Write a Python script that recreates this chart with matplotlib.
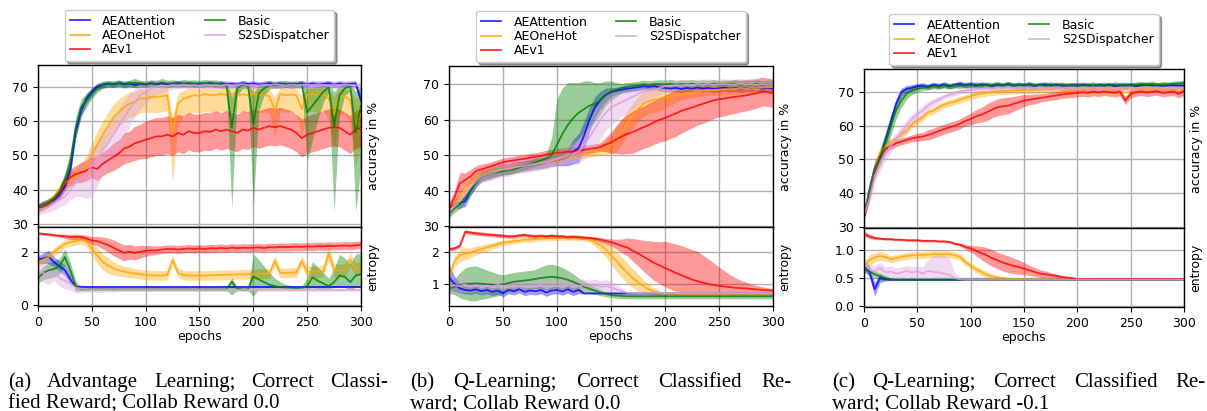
import numpy as np
import matplotlib
matplotlib.use("Agg")
import matplotlib.pyplot as plt

# ---------------- data (one value every 5 epochs) ----------------
epochs = list(range(0, 301, 5))
names = ["AEAttention", "AEOneHot", "AEv1", "Basic", "S2SDispatcher"]
colors = ["blue", "orange", "red", "green", "plum"]
captions = [
    ("(a) Advantage Learning; Correct Classi-", "fied Reward; Collab Reward 0.0"),
    ("(b) Q-Learning; Correct Classified Re-", "ward; Collab Reward 0.0"),
    ("(c) Q-Learning; Correct Classified Re-", "ward; Collab Reward -0.1"),
]

# ---- panel (a) accuracy ----
a_acc_att = [35.0, 35.8, 36.2, 37.0, 38.5, 41.0, 46.0, 57.0, 63.0, 66.5,
             68.5, 70.0, 70.5, 70.8, 70.6, 71.0, 70.7, 70.9, 70.5, 70.8,
             70.6, 71.0, 70.7, 70.9, 70.6, 70.8, 71.0, 70.7, 70.9, 70.6,
             70.8, 70.7, 71.0, 70.6, 70.9, 70.7, 70.8, 70.6, 71.0, 70.7,
             70.9, 70.6, 70.8, 71.0, 70.7, 70.9, 70.6, 70.8, 70.7, 71.0,
             70.6, 70.9, 70.7, 70.8, 71.0, 70.6, 70.9, 70.7, 70.8, 70.9,
             66.0]
a_acc_att_sd = [1.0, 1.0, 1.0, 1.0, 1.2, 1.5, 2.0, 2.0, 1.8, 1.5,
                1.2, 1.0, 0.9, 0.8, 0.8, 0.8, 0.8, 0.8, 0.8, 0.8,
                0.8, 0.8, 0.8, 0.8, 0.8, 0.8, 0.8, 0.8, 0.8, 0.8,
                0.8, 0.8, 0.8, 0.8, 0.8, 0.8, 0.8, 0.8, 0.8, 0.8,
                0.8, 0.8, 0.8, 0.8, 0.8, 0.8, 0.8, 0.8, 0.8, 0.8,
                0.8, 0.8, 0.8, 0.8, 0.8, 0.8, 0.8, 0.8, 0.8, 0.8,
                1.5]
a_acc_one = [34.8, 35.5, 36.5, 38.0, 40.0, 42.0, 43.0, 44.0, 45.0, 47.0,
             50.0, 53.0, 56.0, 58.5, 61.0, 62.5, 64.0, 65.0, 65.5, 66.5,
             66.5, 67.0, 67.0, 67.2, 67.5, 57.0, 65.0, 66.5, 67.0, 67.5,
             67.3, 67.8, 67.5, 67.6, 67.9, 67.5, 67.8, 67.4, 67.7, 67.5,
             67.8, 67.5, 67.6, 67.2, 63.0, 67.8, 67.5, 67.7, 67.4, 63.5,
             67.6, 67.8, 67.5, 67.9, 66.5, 62.0, 67.5, 67.2, 66.0, 58.5,
             62.0]
a_acc_one_up = [1.0, 1.0, 1.0, 1.0, 1.5, 1.5, 2.0, 2.0, 2.5, 3.0,
                3.5, 4.0, 4.0, 4.0, 4.0, 4.0, 3.5, 3.5, 3.0, 3.0,
                2.5, 2.5, 2.5, 2.5, 2.5, 4.0, 3.0, 2.5, 2.5, 2.0,
                2.0, 2.0, 2.0, 2.0, 2.0, 2.0, 2.0, 2.0, 2.0, 2.0,
                2.0, 2.0, 2.0, 2.0, 4.0, 2.0, 2.0, 2.0, 2.0, 4.0,
                2.0, 2.0, 2.0, 2.0, 2.5, 5.0, 2.0, 2.0, 3.0, 8.0,
                5.0]
a_acc_one_lo = [1.0, 1.0, 1.0, 1.0, 1.5, 1.5, 2.0, 2.0, 2.5, 3.0,
                4.0, 4.0, 4.0, 4.0, 4.0, 4.0, 4.0, 4.0, 4.0, 4.0,
                4.0, 4.5, 4.5, 4.5, 4.5, 15.0, 6.0, 5.0, 5.0, 5.0,
                5.0, 5.0, 5.0, 5.0, 5.0, 5.0, 5.0, 5.0, 5.0, 5.0,
                5.0, 5.0, 5.0, 5.0, 8.0, 5.0, 5.0, 5.0, 5.0, 8.0,
                5.0, 5.0, 5.0, 5.0, 6.0, 10.0, 6.0, 5.0, 7.0, 12.0,
                8.0]
a_acc_v1 = [34.5, 35.0, 36.0, 37.5, 39.0, 42.0, 43.5, 44.5, 45.0, 45.5,
            46.5, 46.0, 47.5, 48.5, 49.5, 50.5, 52.0, 52.5, 53.5, 54.0,
            54.5, 55.0, 55.5, 55.5, 56.0, 55.5, 56.5, 56.0, 57.0, 56.5,
            56.5, 57.0, 56.8, 57.5, 57.0, 57.5, 57.0, 56.5, 57.5, 57.2,
            58.0, 57.5, 58.0, 58.5, 58.2, 58.5, 58.0, 57.5, 56.5, 55.0,
            56.0, 56.5, 57.0, 57.5, 58.0, 58.2, 58.0, 57.0, 56.0, 57.5,
            58.0]
a_acc_v1_sd = [1.0, 1.0, 1.0, 1.0, 1.5, 2.0, 2.5, 2.5, 3.0, 3.0,
               3.0, 3.5, 3.5, 3.5, 4.0, 4.0, 4.5, 4.5, 5.0, 5.0,
               5.5, 5.5, 5.5, 5.5, 5.5, 5.5, 5.5, 5.5, 5.5, 5.5,
               5.5, 5.5, 5.5, 5.5, 5.5, 5.5, 5.5, 5.5, 5.5, 5.5,
               5.5, 5.5, 5.5, 5.5, 5.5, 5.5, 5.5, 5.5, 5.5, 5.5,
               5.5, 5.5, 5.5, 5.5, 5.5, 5.5, 5.5, 5.5, 5.5, 5.5,
               5.5]
a_acc_bas = [34.5, 35.5, 36.5, 37.5, 39.5, 43.0, 48.0, 58.0, 64.0, 66.0,
             68.0, 69.5, 70.5, 70.8, 70.7, 71.0, 70.6, 70.9, 71.2, 70.8,
             70.7, 71.0, 70.8, 71.2, 70.9, 71.0, 70.8, 71.1, 70.9, 71.0,
             70.8, 71.1, 70.9, 71.0, 70.7, 70.5, 58.0, 69.5, 70.5, 70.3,
             59.0, 68.0, 69.5, 70.3, 70.5, 70.6, 70.8, 70.5, 70.7, 70.6,
             62.5, 64.5, 66.5, 68.5, 69.8, 58.5, 67.5, 69.5, 70.2, 56.5,
             64.5]
a_acc_bas_up = [1.0, 1.0, 1.0, 1.0, 1.2, 2.0, 3.0, 3.0, 2.5, 2.0,
                1.5, 1.2, 1.0, 1.0, 1.0, 1.0, 1.0, 1.0, 1.2, 1.0,
                1.0, 1.0, 1.0, 1.2, 1.0, 1.0, 1.0, 1.0, 1.0, 1.0,
                1.0, 1.0, 1.0, 1.0, 1.0, 1.0, 9.0, 1.5, 1.0, 1.0,
                9.0, 2.5, 1.5, 1.0, 1.0, 1.0, 1.0, 1.0, 1.0, 1.0,
                7.0, 5.5, 3.5, 2.0, 1.2, 10.0, 3.0, 1.5, 1.0, 12.0,
                6.0]
a_acc_bas_lo = [1.0, 1.0, 1.0, 1.0, 1.2, 2.0, 3.0, 3.0, 2.5, 2.0,
                1.5, 1.2, 1.0, 1.0, 1.0, 1.0, 1.0, 1.0, 1.2, 1.0,
                1.0, 1.0, 1.0, 1.2, 1.0, 1.0, 1.0, 1.0, 1.0, 1.0,
                1.0, 1.0, 1.0, 1.0, 1.0, 1.0, 23.5, 2.0, 1.0, 1.0,
                24.0, 5.0, 2.0, 1.0, 1.0, 1.0, 1.0, 1.0, 1.0, 1.0,
                14.0, 10.0, 6.0, 3.0, 1.5, 25.0, 6.0, 2.0, 1.5, 23.0,
                18.0]
a_acc_s2s = [34.0, 34.5, 35.0, 36.0, 37.0, 38.0, 40.0, 42.0, 43.0, 44.5,
             47.0, 49.0, 51.5, 53.5, 56.0, 58.5, 61.0, 63.5, 65.5, 67.5,
             68.5, 69.5, 70.0, 70.3, 70.2, 70.5, 70.3, 70.6, 70.4, 70.5,
             70.3, 70.6, 70.4, 70.5, 70.3, 70.6, 70.4, 70.5, 70.7, 70.4,
             70.5, 70.3, 70.6, 70.4, 70.7, 70.5, 70.3, 70.6, 70.4, 70.5,
             70.6, 70.4, 70.7, 70.5, 70.3, 70.6, 70.4, 70.7, 70.5, 70.4,
             70.5]
a_acc_s2s_up = [1.5, 1.5, 1.5, 2.0, 2.0, 2.5, 3.0, 3.5, 4.0, 4.5,
                5.0, 5.0, 5.0, 5.0, 5.0, 5.0, 5.0, 4.5, 4.0, 3.5,
                3.0, 2.5, 2.0, 1.5, 1.5, 1.2, 1.0, 1.0, 1.0, 1.0,
                1.0, 1.0, 1.0, 1.0, 1.0, 1.0, 1.0, 1.0, 1.0, 1.0,
                1.0, 1.0, 1.0, 1.0, 1.0, 1.0, 1.0, 1.0, 1.0, 1.0,
                1.0, 1.0, 1.0, 1.0, 1.0, 1.0, 1.0, 1.0, 1.0, 1.0,
                1.0]
a_acc_s2s_lo = [1.5, 1.5, 1.5, 2.0, 2.0, 2.5, 3.0, 4.0, 5.0, 7.0,
                9.0, 8.0, 7.0, 6.0, 6.0, 6.0, 6.0, 5.0, 4.5, 4.0,
                3.5, 3.0, 2.5, 2.0, 1.5, 1.2, 1.0, 1.0, 1.0, 1.0,
                1.0, 1.0, 1.0, 1.0, 1.0, 1.0, 1.0, 1.0, 1.0, 1.0,
                1.0, 1.0, 1.0, 1.0, 1.0, 1.0, 1.0, 1.0, 1.0, 1.0,
                1.0, 1.0, 1.0, 1.0, 1.0, 1.0, 1.0, 1.0, 1.0, 1.0,
                1.0]

# ---- panel (a) entropy ----
a_ent_att = [1.70, 1.75, 1.80, 1.60, 1.45, 1.30, 0.95, 0.68, 0.67, 0.67,
             0.67, 0.67, 0.67, 0.67, 0.67, 0.67, 0.67, 0.67, 0.67, 0.67,
             0.67, 0.67, 0.67, 0.67, 0.67, 0.67, 0.67, 0.67, 0.67, 0.67,
             0.67, 0.67, 0.67, 0.67, 0.67, 0.67, 0.67, 0.67, 0.67, 0.67,
             0.67, 0.67, 0.67, 0.67, 0.67, 0.67, 0.67, 0.67, 0.67, 0.67,
             0.67, 0.67, 0.67, 0.67, 0.67, 0.67, 0.67, 0.67, 0.67, 0.67,
             0.67]
a_ent_att_sd = [0.15, 0.20, 0.25, 0.20, 0.20, 0.20, 0.15, 0.05, 0.02, 0.02,
                0.02, 0.02, 0.02, 0.02, 0.02, 0.02, 0.02, 0.02, 0.02, 0.02,
                0.02, 0.02, 0.02, 0.02, 0.02, 0.02, 0.02, 0.02, 0.02, 0.02,
                0.02, 0.02, 0.02, 0.02, 0.02, 0.02, 0.02, 0.02, 0.02, 0.02,
                0.02, 0.02, 0.02, 0.02, 0.02, 0.02, 0.02, 0.02, 0.02, 0.02,
                0.02, 0.02, 0.02, 0.02, 0.02, 0.02, 0.02, 0.02, 0.02, 0.02,
                0.02]
a_ent_one = [1.60, 1.70, 1.80, 2.00, 2.15, 2.30, 2.35, 2.40, 2.45, 2.40,
             2.10, 1.85, 1.62, 1.48, 1.37, 1.30, 1.25, 1.21, 1.18, 1.15,
             1.12, 1.11, 1.10, 1.10, 1.12, 1.69, 1.20, 1.12, 1.10, 1.10,
             1.10, 1.10, 1.11, 1.12, 1.12, 1.13, 1.13, 1.14, 1.14, 1.15,
             1.15, 1.16, 1.17, 1.18, 1.65, 1.20, 1.20, 1.21, 1.22, 1.65,
             1.23, 1.24, 1.25, 1.26, 1.95, 1.30, 1.28, 1.30, 1.70, 1.32,
             1.38]
a_ent_one_sd = [0.15, 0.15, 0.15, 0.15, 0.15, 0.15, 0.15, 0.15, 0.15, 0.20,
                0.25, 0.30, 0.30, 0.30, 0.25, 0.22, 0.20, 0.20, 0.18, 0.18,
                0.18, 0.18, 0.18, 0.18, 0.18, 0.18, 0.18, 0.18, 0.18, 0.18,
                0.18, 0.18, 0.18, 0.18, 0.18, 0.18, 0.18, 0.18, 0.18, 0.18,
                0.18, 0.18, 0.18, 0.18, 0.20, 0.18, 0.18, 0.18, 0.18, 0.20,
                0.22, 0.22, 0.22, 0.22, 0.25, 0.25, 0.25, 0.25, 0.25, 0.25,
                0.25]
a_ent_v1 = [2.69, 2.67, 2.65, 2.62, 2.60, 2.58, 2.55, 2.56, 2.55, 2.50,
            2.42, 2.40, 2.33, 2.25, 2.15, 2.05, 1.95, 2.00, 1.95, 2.00,
            2.03, 2.05, 2.05, 2.08, 2.10, 2.10, 2.08, 2.10, 2.12, 2.10,
            2.12, 2.10, 2.13, 2.12, 2.14, 2.12, 2.15, 2.13, 2.15, 2.14,
            2.15, 2.16, 2.14, 2.17, 2.16, 2.18, 2.17, 2.18, 2.19, 2.18,
            2.20, 2.19, 2.21, 2.20, 2.22, 2.21, 2.22, 2.23, 2.22, 2.24,
            2.26]
a_ent_v1_sd = [0.05, 0.05, 0.05, 0.05, 0.06, 0.08, 0.10, 0.10, 0.10, 0.12,
               0.15, 0.18, 0.22, 0.26, 0.30, 0.30, 0.30, 0.28, 0.26, 0.24,
               0.20, 0.18, 0.16, 0.15, 0.15, 0.15, 0.15, 0.15, 0.15, 0.15,
               0.15, 0.15, 0.15, 0.15, 0.15, 0.15, 0.15, 0.15, 0.15, 0.15,
               0.15, 0.15, 0.15, 0.15, 0.15, 0.15, 0.15, 0.15, 0.15, 0.15,
               0.15, 0.15, 0.15, 0.15, 0.15, 0.15, 0.15, 0.15, 0.15, 0.15,
               0.15]
a_ent_bas = [1.00, 1.20, 1.30, 1.35, 1.45, 1.80, 1.30, 0.70, 0.58, 0.58,
             0.58, 0.58, 0.58, 0.58, 0.58, 0.58, 0.58, 0.58, 0.58, 0.58,
             0.58, 0.58, 0.58, 0.58, 0.58, 0.58, 0.58, 0.58, 0.58, 0.58,
             0.58, 0.58, 0.58, 0.58, 0.58, 0.58, 0.87, 0.60, 0.58, 0.58,
             1.06, 0.95, 0.85, 0.75, 0.70, 0.66, 0.65, 0.64, 0.63, 0.64,
             0.70, 1.03, 0.90, 0.80, 0.70, 0.85, 1.10, 1.05, 0.85, 1.10,
             1.15]
a_ent_bas_up = [0.20, 0.25, 0.30, 0.30, 0.30, 0.30, 0.30, 0.20, 0.05, 0.05,
                0.04, 0.04, 0.04, 0.04, 0.04, 0.04, 0.04, 0.04, 0.04, 0.04,
                0.04, 0.04, 0.04, 0.04, 0.04, 0.04, 0.04, 0.04, 0.04, 0.04,
                0.04, 0.04, 0.04, 0.04, 0.04, 0.04, 0.15, 0.05, 0.04, 0.04,
                0.85, 0.75, 0.60, 0.45, 0.30, 0.20, 0.12, 0.08, 0.06, 0.06,
                0.30, 0.60, 0.50, 0.40, 0.30, 0.50, 0.80, 0.70, 0.70, 0.80,
                0.80]
a_ent_bas_lo = [0.20, 0.25, 0.30, 0.30, 0.30, 0.30, 0.30, 0.20, 0.05, 0.05,
                0.05, 0.05, 0.05, 0.05, 0.05, 0.05, 0.05, 0.05, 0.05, 0.05,
                0.05, 0.05, 0.05, 0.05, 0.05, 0.05, 0.05, 0.05, 0.05, 0.05,
                0.05, 0.05, 0.05, 0.05, 0.05, 0.05, 0.50, 0.06, 0.05, 0.05,
                0.75, 0.35, 0.25, 0.15, 0.10, 0.06, 0.06, 0.06, 0.06, 0.06,
                0.10, 0.40, 0.30, 0.20, 0.10, 0.20, 0.45, 0.40, 0.30, 0.45,
                0.50]
a_ent_s2s = [1.30, 1.20, 1.10, 1.20, 1.00, 0.90, 0.80, 0.65, 0.60, 0.58,
             0.56, 0.56, 0.56, 0.56, 0.56, 0.56, 0.56, 0.56, 0.56, 0.56,
             0.56, 0.56, 0.56, 0.56, 0.56, 0.56, 0.56, 0.56, 0.56, 0.56,
             0.56, 0.56, 0.56, 0.56, 0.56, 0.56, 0.56, 0.56, 0.56, 0.56,
             0.56, 0.56, 0.56, 0.56, 0.56, 0.56, 0.56, 0.56, 0.56, 0.56,
             0.56, 0.56, 0.56, 0.56, 0.56, 0.56, 0.56, 0.56, 0.56, 0.56,
             0.56]
a_ent_s2s_sd = [0.30, 0.35, 0.35, 0.30, 0.30, 0.30, 0.25, 0.20, 0.15, 0.12,
                0.10, 0.10, 0.10, 0.08, 0.08, 0.06, 0.06, 0.06, 0.06, 0.06,
                0.06, 0.06, 0.06, 0.06, 0.06, 0.06, 0.06, 0.06, 0.06, 0.06,
                0.06, 0.06, 0.06, 0.06, 0.06, 0.06, 0.06, 0.06, 0.06, 0.06,
                0.06, 0.06, 0.06, 0.06, 0.06, 0.06, 0.06, 0.06, 0.06, 0.06,
                0.06, 0.06, 0.06, 0.06, 0.06, 0.06, 0.06, 0.06, 0.06, 0.06,
                0.06]

# ---- panel (b) accuracy ----
b_acc_att = [34.5, 36.0, 36.5, 37.0, 40.0, 42.5, 44.0, 44.5, 45.0, 45.5,
             46.0, 46.0, 46.5, 46.8, 47.0, 47.2, 47.5, 47.7, 48.0, 48.3,
             48.5, 49.0, 49.5, 51.0, 52.0, 55.5, 60.0, 63.5, 65.5, 67.0,
             67.8, 68.2, 68.5, 68.8, 69.0, 69.2, 69.5, 69.3, 69.5, 69.2,
             69.0, 68.8, 69.0, 68.7, 69.0, 68.8, 69.1, 68.8, 69.0, 68.7,
             68.9, 69.1, 68.8, 69.0, 68.7, 69.0, 68.9, 69.1, 68.8, 69.0,
             68.8]
b_acc_att_sd = [1.0, 1.0, 1.5, 1.5, 1.5, 1.5, 1.5, 1.5, 1.5, 1.5,
                1.5, 1.5, 1.5, 1.5, 1.5, 1.5, 1.5, 1.5, 1.5, 1.5,
                1.5, 2.0, 2.5, 3.5, 4.0, 4.0, 3.5, 3.0, 2.5, 2.0,
                1.2, 1.0, 1.0, 1.0, 1.0, 1.0, 1.0, 1.0, 1.0, 1.0,
                1.0, 1.0, 1.0, 1.0, 1.0, 1.0, 1.0, 1.0, 1.0, 1.0,
                1.0, 1.0, 1.0, 1.0, 1.0, 1.0, 1.0, 1.0, 1.0, 1.0,
                1.0]
b_acc_one = [34.0, 36.0, 38.0, 40.0, 42.0, 43.5, 44.5, 45.0, 45.5, 45.8,
             46.0, 46.2, 46.5, 46.8, 47.0, 47.3, 47.5, 47.8, 48.0, 48.3,
             48.5, 49.0, 49.5, 49.8, 50.0, 50.3, 50.5, 51.0, 51.5, 52.0,
             53.0, 54.5, 56.5, 59.0, 61.2, 63.0, 64.5, 65.2, 65.7, 66.0,
             66.3, 66.6, 66.9, 67.2, 67.5, 67.7, 68.0, 68.2, 68.3, 68.4,
             68.5, 68.6, 68.7, 68.8, 68.8, 68.9, 69.0, 69.0, 69.1, 69.2,
             69.2]
b_acc_one_sd = [1.5, 1.5, 1.5, 1.5, 1.5, 1.5, 1.5, 1.5, 1.5, 1.5,
                1.2, 1.2, 1.2, 1.2, 1.2, 1.2, 1.2, 1.2, 1.2, 1.2,
                1.2, 1.2, 1.2, 1.2, 1.2, 1.2, 1.2, 1.2, 1.5, 2.0,
                2.5, 3.5, 3.5, 3.5, 3.5, 3.5, 3.5, 3.5, 3.5, 3.5,
                3.0, 2.5, 2.0, 1.5, 1.5, 1.5, 1.5, 1.5, 1.5, 1.5,
                1.5, 1.5, 1.5, 1.5, 1.5, 1.5, 1.5, 1.5, 1.5, 1.5,
                1.5]
b_acc_v1 = [35.0, 38.0, 42.0, 43.0, 44.0, 45.5, 46.0, 46.5, 47.0, 47.5,
            48.0, 48.3, 48.5, 48.8, 49.0, 49.3, 49.5, 49.8, 50.2, 50.4,
            50.6, 50.8, 51.0, 51.0, 51.3, 51.5, 51.8, 52.0, 52.3, 53.0,
            53.5, 54.5, 55.3, 56.0, 56.5, 57.2, 57.9, 58.5, 59.3, 60.0,
            60.5, 61.2, 61.8, 62.5, 63.0, 63.5, 64.0, 64.5, 65.0, 65.5,
            65.8, 66.0, 66.3, 66.5, 66.7, 66.9, 67.2, 67.5, 68.0, 67.8,
            67.5]
b_acc_v1_sd = [1.5, 2.0, 3.0, 2.0, 2.0, 1.5, 1.5, 1.2, 1.2, 1.2,
               1.2, 1.2, 1.2, 1.2, 1.2, 1.2, 1.2, 1.2, 1.2, 1.2,
               1.2, 1.2, 1.2, 1.2, 1.2, 1.2, 1.2, 1.2, 1.2, 2.0,
               3.0, 4.0, 5.0, 5.5, 6.0, 6.0, 6.0, 6.2, 6.2, 6.3,
               6.5, 6.5, 6.5, 6.3, 6.0, 5.8, 5.5, 5.5, 5.4, 5.2,
               5.0, 4.9, 4.8, 4.7, 4.5, 4.4, 4.3, 4.2, 4.1, 4.0,
               4.0]
b_acc_bas = [33.5, 35.0, 36.0, 38.0, 40.0, 42.0, 44.0, 44.5, 45.0, 45.2,
             45.5, 45.7, 46.0, 46.5, 47.0, 47.5, 48.0, 48.5, 49.0, 50.0,
             53.0, 56.0, 58.5, 60.5, 62.0, 63.0, 64.0, 64.5, 65.5, 67.0,
             68.0, 68.5, 69.0, 69.3, 69.5, 69.7, 70.0, 69.8, 70.0, 70.1,
             70.0, 70.2, 69.9, 70.1, 70.0, 70.2, 69.9, 70.1, 70.0, 70.2,
             69.9, 70.1, 70.0, 70.2, 69.9, 70.1, 70.0, 70.2, 69.9, 70.1,
             70.0]
b_acc_bas_up = [1.2, 1.2, 1.2, 1.2, 1.2, 1.2, 1.2, 1.2, 1.2, 1.2,
                1.2, 1.2, 1.2, 1.2, 1.2, 1.2, 1.2, 1.2, 1.2, 5.0,
                13.0, 13.0, 12.0, 10.0, 8.5, 8.0, 7.0, 6.0, 5.0, 4.0,
                3.0, 2.0, 1.2, 1.2, 1.2, 1.2, 1.2, 1.2, 1.2, 1.2,
                1.2, 1.2, 1.2, 1.2, 1.2, 1.2, 1.2, 1.2, 1.2, 1.2,
                1.2, 1.2, 1.2, 1.2, 1.2, 1.2, 1.2, 1.2, 1.2, 1.2,
                1.2]
b_acc_bas_lo = [1.2, 1.2, 1.2, 1.2, 1.2, 1.2, 1.2, 1.2, 1.2, 1.2,
                1.2, 1.2, 1.2, 1.2, 1.2, 1.2, 1.2, 1.2, 1.2, 1.5,
                3.5, 6.0, 8.0, 8.0, 7.5, 6.5, 6.0, 5.0, 4.0, 3.0,
                2.5, 2.0, 1.2, 1.2, 1.2, 1.2, 1.2, 1.2, 1.2, 1.2,
                1.2, 1.2, 1.2, 1.2, 1.2, 1.2, 1.2, 1.2, 1.2, 1.2,
                1.2, 1.2, 1.2, 1.2, 1.2, 1.2, 1.2, 1.2, 1.2, 1.2,
                1.2]
b_acc_s2s = [34.0, 35.5, 37.0, 39.0, 41.0, 42.5, 44.0, 44.5, 45.0, 45.5,
             46.0, 46.0, 46.5, 46.8, 47.0, 47.3, 47.5, 47.8, 48.0, 48.5,
             49.0, 49.5, 50.0, 50.5, 51.0, 53.0, 55.0, 57.5, 60.0, 62.0,
             63.5, 64.3, 65.0, 65.8, 66.5, 67.3, 68.0, 68.3, 68.5, 69.0,
             69.5, 69.6, 69.8, 69.7, 69.9, 69.8, 70.0, 69.9, 70.1, 69.9,
             70.0, 70.1, 69.9, 70.0, 70.2, 70.0, 70.1, 69.9, 70.1, 70.0,
             70.1]
b_acc_s2s_sd = [1.0, 1.5, 1.5, 1.5, 1.5, 1.5, 2.0, 2.0, 2.0, 2.0,
                2.0, 2.0, 2.0, 2.0, 2.0, 2.0, 2.0, 2.0, 2.0, 2.0,
                2.0, 2.0, 2.5, 3.0, 3.5, 4.0, 5.0, 5.5, 5.5, 5.0,
                5.0, 4.5, 4.0, 4.0, 3.5, 3.0, 3.0, 2.5, 2.0, 2.0,
                1.5, 1.5, 1.5, 1.5, 1.5, 1.5, 1.5, 1.5, 1.5, 1.5,
                1.5, 1.5, 1.5, 1.5, 1.5, 1.5, 1.5, 1.5, 1.5, 1.5,
                1.5]

# ---- panel (b) entropy ----
b_ent_att = [1.20, 1.00, 0.85, 0.80, 0.78, 0.82, 0.76, 0.80, 0.74, 0.78,
             0.70, 0.80, 0.76, 0.82, 0.74, 0.78, 0.76, 0.80, 0.72, 0.78,
             0.80, 0.75, 0.82, 0.74, 0.80, 0.69, 0.69, 0.69, 0.69, 0.69,
             0.69, 0.69, 0.69, 0.69, 0.69, 0.69, 0.69, 0.69, 0.69, 0.69,
             0.69, 0.69, 0.69, 0.69, 0.69, 0.69, 0.69, 0.69, 0.69, 0.69,
             0.69, 0.69, 0.69, 0.69, 0.69, 0.69, 0.69, 0.69, 0.69, 0.69,
             0.69]
b_ent_att_sd = [0.40, 0.25, 0.15, 0.12, 0.12, 0.12, 0.12, 0.12, 0.12, 0.12,
                0.12, 0.12, 0.12, 0.12, 0.12, 0.12, 0.12, 0.12, 0.12, 0.12,
                0.12, 0.12, 0.12, 0.12, 0.12, 0.01, 0.01, 0.01, 0.01, 0.01,
                0.01, 0.01, 0.01, 0.01, 0.01, 0.01, 0.01, 0.01, 0.01, 0.01,
                0.01, 0.01, 0.01, 0.01, 0.01, 0.01, 0.01, 0.01, 0.01, 0.01,
                0.01, 0.01, 0.01, 0.01, 0.01, 0.01, 0.01, 0.01, 0.01, 0.01,
                0.01]
b_ent_one = [1.20, 1.70, 1.90, 1.95, 1.98, 2.05, 2.10, 2.15, 2.20, 2.25,
             2.30, 2.32, 2.35, 2.37, 2.40, 2.40, 2.42, 2.43, 2.45, 2.45,
             2.45, 2.46, 2.45, 2.46, 2.45, 2.44, 2.40, 2.32, 2.22, 2.10,
             1.90, 1.72, 1.52, 1.35, 1.18, 1.04, 0.92, 0.82, 0.75, 0.70,
             0.68, 0.68, 0.68, 0.68, 0.68, 0.68, 0.68, 0.68, 0.68, 0.68,
             0.68, 0.68, 0.68, 0.68, 0.68, 0.68, 0.68, 0.68, 0.68, 0.68,
             0.68]
b_ent_one_sd = [0.10, 0.15, 0.20, 0.20, 0.15, 0.15, 0.12, 0.12, 0.10, 0.10,
                0.08, 0.08, 0.08, 0.08, 0.08, 0.08, 0.08, 0.08, 0.08, 0.08,
                0.08, 0.08, 0.08, 0.08, 0.08, 0.08, 0.08, 0.12, 0.18, 0.25,
                0.30, 0.32, 0.33, 0.33, 0.30, 0.27, 0.22, 0.17, 0.12, 0.08,
                0.03, 0.03, 0.03, 0.03, 0.03, 0.03, 0.03, 0.03, 0.03, 0.03,
                0.03, 0.03, 0.03, 0.03, 0.03, 0.03, 0.03, 0.03, 0.03, 0.03,
                0.03]
b_ent_v1 = [2.10, 2.12, 2.20, 2.65, 2.62, 2.60, 2.58, 2.56, 2.55, 2.53,
            2.52, 2.50, 2.50, 2.53, 2.55, 2.52, 2.50, 2.52, 2.50, 2.52,
            2.50, 2.50, 2.48, 2.49, 2.48, 2.46, 2.45, 2.43, 2.40, 2.36,
            2.32, 2.26, 2.20, 2.15, 2.05, 1.96, 1.86, 1.76, 1.66, 1.58,
            1.50, 1.42, 1.34, 1.27, 1.20, 1.13, 1.08, 1.03, 0.99, 0.96,
            0.93, 0.91, 0.89, 0.87, 0.86, 0.85, 0.83, 0.82, 0.80, 0.79,
            0.78]
b_ent_v1_up = [0.06, 0.06, 0.06, 0.06, 0.06, 0.06, 0.06, 0.06, 0.06, 0.06,
               0.06, 0.06, 0.06, 0.06, 0.06, 0.06, 0.06, 0.06, 0.06, 0.06,
               0.06, 0.06, 0.06, 0.06, 0.06, 0.06, 0.06, 0.06, 0.06, 0.08,
               0.10, 0.15, 0.22, 0.30, 0.38, 0.45, 0.52, 0.60, 0.68, 0.75,
               0.85, 0.88, 0.92, 0.94, 0.95, 0.95, 0.95, 0.88, 0.80, 0.70,
               0.60, 0.50, 0.40, 0.32, 0.25, 0.20, 0.15, 0.12, 0.10, 0.08,
               0.06]
b_ent_v1_lo = [0.06, 0.06, 0.06, 0.06, 0.06, 0.06, 0.06, 0.06, 0.06, 0.06,
               0.06, 0.06, 0.06, 0.06, 0.06, 0.06, 0.06, 0.06, 0.06, 0.06,
               0.06, 0.06, 0.06, 0.06, 0.06, 0.06, 0.06, 0.06, 0.06, 0.08,
               0.12, 0.17, 0.22, 0.27, 0.33, 0.40, 0.46, 0.52, 0.56, 0.58,
               0.60, 0.60, 0.58, 0.55, 0.50, 0.45, 0.40, 0.35, 0.30, 0.27,
               0.25, 0.23, 0.21, 0.19, 0.17, 0.15, 0.13, 0.11, 0.10, 0.09,
               0.08]
b_ent_bas = [0.85, 0.90, 0.95, 1.00, 1.00, 1.01, 1.00, 0.98, 0.97, 0.96,
             0.98, 1.02, 1.06, 1.08, 1.10, 1.12, 1.15, 1.18, 1.20, 1.22,
             1.20, 1.17, 1.12, 1.06, 0.98, 0.90, 0.84, 0.78, 0.72, 0.67,
             0.64, 0.62, 0.61, 0.60, 0.60, 0.60, 0.60, 0.60, 0.60, 0.60,
             0.60, 0.60, 0.60, 0.60, 0.60, 0.60, 0.60, 0.60, 0.60, 0.60,
             0.60, 0.60, 0.60, 0.60, 0.60, 0.60, 0.60, 0.60, 0.60, 0.60,
             0.60]
b_ent_bas_sd = [0.15, 0.25, 0.40, 0.50, 0.55, 0.55, 0.50, 0.45, 0.40, 0.35,
                0.30, 0.30, 0.30, 0.30, 0.30, 0.30, 0.30, 0.35, 0.40, 0.40,
                0.38, 0.35, 0.30, 0.25, 0.20, 0.18, 0.15, 0.12, 0.10, 0.08,
                0.08, 0.08, 0.08, 0.08, 0.08, 0.08, 0.08, 0.08, 0.08, 0.08,
                0.08, 0.08, 0.08, 0.08, 0.08, 0.08, 0.08, 0.08, 0.08, 0.08,
                0.08, 0.08, 0.08, 0.08, 0.08, 0.08, 0.08, 0.08, 0.08, 0.08,
                0.08]
b_ent_s2s = [0.90, 0.95, 0.92, 0.98, 0.90, 0.95, 0.88, 0.94, 0.90, 0.96,
             0.92, 0.88, 0.95, 0.90, 0.93, 0.88, 0.92, 0.95, 0.90, 0.94,
             0.92, 0.95, 0.98, 0.96, 0.93, 0.95, 0.92, 0.94, 0.90, 0.92,
             0.88, 0.82, 0.76, 0.71, 0.70, 0.70, 0.70, 0.70, 0.70, 0.70,
             0.70, 0.70, 0.70, 0.70, 0.70, 0.70, 0.70, 0.70, 0.70, 0.70,
             0.70, 0.70, 0.70, 0.70, 0.70, 0.70, 0.70, 0.70, 0.70, 0.70,
             0.70]
b_ent_s2s_sd = [0.20, 0.25, 0.25, 0.25, 0.20, 0.20, 0.20, 0.20, 0.20, 0.20,
                0.20, 0.20, 0.20, 0.20, 0.20, 0.20, 0.20, 0.20, 0.20, 0.20,
                0.20, 0.20, 0.20, 0.20, 0.20, 0.20, 0.20, 0.20, 0.20, 0.20,
                0.20, 0.15, 0.10, 0.05, 0.02, 0.02, 0.02, 0.02, 0.02, 0.02,
                0.02, 0.02, 0.02, 0.02, 0.02, 0.02, 0.02, 0.02, 0.02, 0.02,
                0.02, 0.02, 0.02, 0.02, 0.02, 0.02, 0.02, 0.02, 0.02, 0.02,
                0.02]

# ---- panel (c) accuracy ----
c_acc_att = [33.0, 41.0, 47.5, 50.5, 55.5, 61.0, 66.5, 70.0, 71.0, 71.3,
             71.8, 72.0, 71.6, 72.2, 71.9, 72.3, 71.8, 72.1, 72.5, 72.0,
             72.4, 71.9, 72.3, 72.1, 71.8, 72.2, 72.0, 72.4, 71.9, 72.2,
             72.0, 72.3, 71.8, 72.1, 72.3, 71.9, 72.2, 72.0, 71.8, 72.1,
             71.9, 72.2, 72.0, 71.7, 72.1, 71.9, 72.2, 71.8, 72.0, 71.9,
             72.1, 71.8, 72.0, 72.2, 71.9, 72.1, 71.8, 72.0, 72.1, 71.9,
             72.0]
c_acc_att_sd = [1.5, 1.5, 2.0, 2.0, 2.0, 2.0, 1.5, 1.2, 1.0, 1.0,
                0.8, 0.8, 0.8, 0.8, 0.8, 0.8, 0.8, 0.8, 0.8, 0.8,
                0.8, 0.8, 0.8, 0.8, 0.8, 0.8, 0.8, 0.8, 0.8, 0.8,
                0.8, 0.8, 0.8, 0.8, 0.8, 0.8, 0.8, 0.8, 0.8, 0.8,
                0.8, 0.8, 0.8, 0.8, 0.8, 0.8, 0.8, 0.8, 0.8, 0.8,
                0.8, 0.8, 0.8, 0.8, 0.8, 0.8, 0.8, 0.8, 0.8, 0.8,
                0.8]
c_acc_one = [34.0, 40.0, 47.0, 52.0, 54.0, 55.0, 56.0, 57.5, 58.5, 60.5,
             61.5, 62.5, 64.0, 64.5, 65.5, 66.3, 66.8, 67.2, 67.8, 68.3,
             68.8, 69.3, 69.6, 69.8, 70.0, 70.2, 70.3, 70.4, 70.5, 70.6,
             70.7, 70.6, 70.8, 70.7, 70.9, 70.8, 71.0, 70.9, 70.7, 71.0,
             70.9, 71.1, 70.8, 71.0, 71.2, 70.9, 71.1, 71.0, 71.2, 70.9,
             71.1, 71.0, 71.2, 71.1, 70.9, 71.2, 71.0, 71.3, 71.1, 71.2,
             71.0]
c_acc_one_sd = [1.5, 1.5, 1.5, 1.5, 1.2, 1.2, 1.0, 1.0, 1.0, 1.0,
                1.0, 1.0, 1.0, 1.0, 1.0, 1.0, 1.0, 1.0, 1.0, 1.0,
                1.0, 1.0, 1.0, 1.0, 1.0, 1.0, 1.0, 1.0, 1.0, 1.0,
                1.0, 1.0, 1.0, 1.0, 1.0, 1.0, 1.0, 1.0, 1.0, 1.0,
                1.0, 1.0, 1.0, 1.0, 1.0, 1.0, 1.0, 1.0, 1.0, 1.0,
                1.0, 1.0, 1.0, 1.0, 1.0, 1.0, 1.0, 1.0, 1.0, 1.0,
                1.0]
c_acc_v1 = [33.0, 39.0, 46.0, 51.0, 53.0, 54.0, 54.8, 55.3, 55.8, 56.3,
            56.6, 56.8, 57.3, 57.8, 58.4, 59.0, 59.5, 60.0, 60.6, 61.5,
            62.0, 62.8, 63.3, 64.0, 64.8, 65.5, 65.8, 66.0, 66.5, 67.0,
            67.5, 67.8, 68.0, 68.3, 68.5, 68.8, 69.0, 69.3, 69.5, 69.6,
            69.8, 70.0, 69.8, 70.1, 69.9, 70.2, 70.0, 69.8, 70.1, 67.5,
            69.5, 70.0, 70.2, 69.9, 70.1, 70.3, 69.8, 70.0, 70.2, 69.5,
            70.3]
c_acc_v1_sd = [1.0, 1.5, 1.5, 1.2, 1.0, 1.0, 1.0, 1.0, 1.0, 1.0,
               1.2, 1.2, 1.5, 1.5, 1.5, 1.5, 1.5, 1.5, 1.5, 1.5,
               1.8, 2.0, 2.2, 2.5, 2.5, 2.5, 2.5, 2.5, 2.2, 2.0,
               1.8, 1.5, 1.5, 1.2, 1.2, 1.2, 1.2, 1.2, 1.2, 1.2,
               1.2, 1.2, 1.2, 1.2, 1.2, 1.2, 1.2, 1.2, 1.2, 1.2,
               1.2, 1.2, 1.2, 1.2, 1.2, 1.2, 1.2, 1.2, 1.2, 1.2,
               1.2]
c_acc_bas = [33.5, 40.0, 47.0, 50.5, 55.0, 60.0, 64.5, 67.5, 69.5, 70.5,
             71.0, 71.3, 71.5, 71.8, 71.6, 72.0, 71.7, 72.1, 71.9, 72.2,
             72.0, 72.3, 71.9, 72.2, 72.1, 72.4, 72.0, 72.3, 72.1, 72.2,
             72.0, 72.3, 72.1, 72.2, 71.9, 72.3, 72.0, 72.2, 72.1, 72.0,
             72.2, 71.9, 72.1, 72.3, 72.0, 72.2, 71.9, 72.3, 72.1, 72.2,
             72.0, 72.3, 72.4, 72.2, 72.5, 72.1, 72.4, 72.3, 72.5, 72.6,
             72.8]
c_acc_bas_sd = [1.5, 1.5, 2.0, 2.5, 3.0, 3.0, 2.5, 2.0, 1.5, 1.2,
                1.0, 0.8, 0.8, 0.8, 0.8, 0.8, 0.8, 0.8, 0.8, 0.8,
                0.8, 0.8, 0.8, 0.8, 0.8, 0.8, 0.8, 0.8, 0.8, 0.8,
                0.8, 0.8, 0.8, 0.8, 0.8, 0.8, 0.8, 0.8, 0.8, 0.8,
                0.8, 0.8, 0.8, 0.8, 0.8, 0.8, 0.8, 0.8, 0.8, 0.8,
                0.8, 0.8, 0.8, 0.8, 0.8, 0.8, 0.8, 0.8, 0.8, 0.8,
                0.8]
c_acc_s2s = [33.5, 38.0, 45.0, 48.5, 51.5, 54.0, 56.0, 58.0, 60.0, 62.0,
             63.5, 64.5, 66.0, 67.0, 67.8, 68.6, 69.2, 69.7, 70.2, 70.5,
             70.7, 70.9, 71.0, 71.2, 71.1, 71.3, 71.2, 71.4, 71.2, 71.3,
             71.4, 71.2, 71.3, 71.5, 71.2, 71.4, 71.3, 71.2, 71.4, 71.3,
             71.2, 71.4, 71.3, 71.5, 71.2, 71.3, 71.4, 71.2, 71.3, 71.4,
             71.3, 71.2, 71.4, 71.3, 71.5, 71.2, 71.4, 71.3, 71.2, 71.4,
             71.3]
c_acc_s2s_sd = [1.5, 1.5, 2.0, 2.0, 2.0, 2.0, 1.8, 1.8, 1.8, 1.5,
                1.5, 1.5, 1.2, 1.2, 1.0, 0.8, 0.8, 0.8, 0.8, 0.8,
                0.8, 0.8, 0.8, 0.8, 0.8, 0.8, 0.8, 0.8, 0.8, 0.8,
                0.8, 0.8, 0.8, 0.8, 0.8, 0.8, 0.8, 0.8, 0.8, 0.8,
                0.8, 0.8, 0.8, 0.8, 0.8, 0.8, 0.8, 0.8, 0.8, 0.8,
                0.8, 0.8, 0.8, 0.8, 0.8, 0.8, 0.8, 0.8, 0.8, 0.8,
                0.8]

# ---- panel (c) entropy ----
c_ent_att = [0.72, 0.62, 0.30, 0.50, 0.48, 0.47, 0.47, 0.47, 0.47, 0.47,
             0.47, 0.47, 0.47, 0.47, 0.47, 0.47, 0.47, 0.47, 0.47, 0.47,
             0.47, 0.47, 0.47, 0.47, 0.47, 0.47, 0.47, 0.47, 0.47, 0.47,
             0.47, 0.47, 0.47, 0.47, 0.47, 0.47, 0.47, 0.47, 0.47, 0.47,
             0.47, 0.47, 0.47, 0.47, 0.47, 0.47, 0.47, 0.47, 0.47, 0.47,
             0.47, 0.47, 0.47, 0.47, 0.47, 0.47, 0.47, 0.47, 0.47, 0.47,
             0.47]
c_ent_att_sd = [0.08, 0.10, 0.12, 0.08, 0.03, 0.01, 0.01, 0.01, 0.01, 0.01,
                0.01, 0.01, 0.01, 0.01, 0.01, 0.01, 0.01, 0.01, 0.01, 0.01,
                0.01, 0.01, 0.01, 0.01, 0.01, 0.01, 0.01, 0.01, 0.01, 0.01,
                0.01, 0.01, 0.01, 0.01, 0.01, 0.01, 0.01, 0.01, 0.01, 0.01,
                0.01, 0.01, 0.01, 0.01, 0.01, 0.01, 0.01, 0.01, 0.01, 0.01,
                0.01, 0.01, 0.01, 0.01, 0.01, 0.01, 0.01, 0.01, 0.01, 0.01,
                0.01]
c_ent_one = [0.70, 0.82, 0.87, 0.90, 0.88, 0.84, 0.86, 0.88, 0.90, 0.91,
             0.91, 0.92, 0.92, 0.93, 0.93, 0.93, 0.93, 0.91, 0.88, 0.79,
             0.72, 0.66, 0.61, 0.56, 0.53, 0.51, 0.50, 0.49, 0.48, 0.48,
             0.48, 0.48, 0.48, 0.48, 0.48, 0.48, 0.48, 0.48, 0.48, 0.48,
             0.48, 0.48, 0.48, 0.48, 0.48, 0.48, 0.48, 0.48, 0.48, 0.48,
             0.48, 0.48, 0.48, 0.48, 0.48, 0.48, 0.48, 0.48, 0.48, 0.48,
             0.48]
c_ent_one_sd = [0.10, 0.10, 0.08, 0.08, 0.07, 0.06, 0.06, 0.06, 0.06, 0.06,
                0.06, 0.06, 0.06, 0.06, 0.06, 0.06, 0.06, 0.06, 0.06, 0.06,
                0.06, 0.06, 0.06, 0.06, 0.05, 0.04, 0.02, 0.01, 0.01, 0.01,
                0.01, 0.01, 0.01, 0.01, 0.01, 0.01, 0.01, 0.01, 0.01, 0.01,
                0.01, 0.01, 0.01, 0.01, 0.01, 0.01, 0.01, 0.01, 0.01, 0.01,
                0.01, 0.01, 0.01, 0.01, 0.01, 0.01, 0.01, 0.01, 0.01, 0.01,
                0.01]
c_ent_v1 = [1.29, 1.25, 1.22, 1.21, 1.20, 1.20, 1.19, 1.19, 1.18, 1.18,
            1.18, 1.17, 1.17, 1.17, 1.16, 1.16, 1.15, 1.12, 1.10, 1.06,
            1.03, 0.99, 0.95, 0.91, 0.86, 0.82, 0.78, 0.75, 0.72, 0.70,
            0.67, 0.64, 0.61, 0.58, 0.57, 0.55, 0.54, 0.52, 0.51, 0.50,
            0.48, 0.48, 0.48, 0.48, 0.48, 0.48, 0.48, 0.48, 0.48, 0.48,
            0.48, 0.48, 0.48, 0.48, 0.48, 0.48, 0.48, 0.48, 0.48, 0.48,
            0.48]
c_ent_v1_sd = [0.05, 0.04, 0.03, 0.02, 0.02, 0.02, 0.02, 0.02, 0.02, 0.02,
               0.02, 0.02, 0.02, 0.02, 0.02, 0.02, 0.02, 0.02, 0.03, 0.04,
               0.06, 0.09, 0.12, 0.14, 0.15, 0.15, 0.15, 0.15, 0.14, 0.13,
               0.11, 0.09, 0.08, 0.07, 0.06, 0.05, 0.04, 0.03, 0.02, 0.02,
               0.01, 0.01, 0.01, 0.01, 0.01, 0.01, 0.01, 0.01, 0.01, 0.01,
               0.01, 0.01, 0.01, 0.01, 0.01, 0.01, 0.01, 0.01, 0.01, 0.01,
               0.01]
c_ent_bas = [0.66, 0.62, 0.57, 0.53, 0.50, 0.48, 0.47, 0.47, 0.47, 0.47,
             0.47, 0.47, 0.47, 0.47, 0.47, 0.47, 0.47, 0.47, 0.47, 0.47,
             0.47, 0.47, 0.47, 0.47, 0.47, 0.47, 0.47, 0.47, 0.47, 0.47,
             0.47, 0.47, 0.47, 0.47, 0.47, 0.47, 0.47, 0.47, 0.47, 0.47,
             0.47, 0.47, 0.47, 0.47, 0.47, 0.47, 0.47, 0.47, 0.47, 0.47,
             0.47, 0.47, 0.47, 0.47, 0.47, 0.47, 0.47, 0.47, 0.47, 0.47,
             0.47]
c_ent_bas_sd = [0.05, 0.05, 0.06, 0.06, 0.05, 0.03, 0.01, 0.01, 0.01, 0.01,
                0.01, 0.01, 0.01, 0.01, 0.01, 0.01, 0.01, 0.01, 0.01, 0.01,
                0.01, 0.01, 0.01, 0.01, 0.01, 0.01, 0.01, 0.01, 0.01, 0.01,
                0.01, 0.01, 0.01, 0.01, 0.01, 0.01, 0.01, 0.01, 0.01, 0.01,
                0.01, 0.01, 0.01, 0.01, 0.01, 0.01, 0.01, 0.01, 0.01, 0.01,
                0.01, 0.01, 0.01, 0.01, 0.01, 0.01, 0.01, 0.01, 0.01, 0.01,
                0.01]
c_ent_s2s = [0.75, 0.65, 0.62, 0.68, 0.60, 0.62, 0.58, 0.60, 0.63, 0.60,
             0.62, 0.58, 0.63, 0.61, 0.60, 0.58, 0.56, 0.50, 0.48, 0.47,
             0.47, 0.47, 0.47, 0.47, 0.47, 0.47, 0.47, 0.47, 0.47, 0.47,
             0.47, 0.47, 0.47, 0.47, 0.47, 0.47, 0.47, 0.47, 0.47, 0.47,
             0.47, 0.47, 0.47, 0.47, 0.47, 0.47, 0.47, 0.47, 0.47, 0.47,
             0.47, 0.47, 0.47, 0.47, 0.47, 0.47, 0.47, 0.47, 0.47, 0.47,
             0.47]
c_ent_s2s_up = [0.10, 0.10, 0.10, 0.10, 0.10, 0.10, 0.10, 0.10, 0.10, 0.10,
                0.10, 0.12, 0.20, 0.30, 0.33, 0.33, 0.30, 0.10, 0.02, 0.01,
                0.01, 0.01, 0.01, 0.01, 0.01, 0.01, 0.01, 0.01, 0.01, 0.01,
                0.01, 0.01, 0.01, 0.01, 0.01, 0.01, 0.01, 0.01, 0.01, 0.01,
                0.01, 0.01, 0.01, 0.01, 0.01, 0.01, 0.01, 0.01, 0.01, 0.01,
                0.01, 0.01, 0.01, 0.01, 0.01, 0.01, 0.01, 0.01, 0.01, 0.01,
                0.01]
c_ent_s2s_lo = [0.10, 0.10, 0.10, 0.10, 0.10, 0.10, 0.10, 0.10, 0.10, 0.10,
                0.10, 0.10, 0.10, 0.10, 0.10, 0.10, 0.08, 0.03, 0.01, 0.01,
                0.01, 0.01, 0.01, 0.01, 0.01, 0.01, 0.01, 0.01, 0.01, 0.01,
                0.01, 0.01, 0.01, 0.01, 0.01, 0.01, 0.01, 0.01, 0.01, 0.01,
                0.01, 0.01, 0.01, 0.01, 0.01, 0.01, 0.01, 0.01, 0.01, 0.01,
                0.01, 0.01, 0.01, 0.01, 0.01, 0.01, 0.01, 0.01, 0.01, 0.01,
                0.01]

# ---------------- figure ----------------
W, H = 1207, 411
fig = plt.figure(figsize=(W / 100, H / 100), dpi=100)
plt.rcParams["font.family"] = ["DejaVu Sans"]

panels = [
    dict(l=38, r=361, t=65, m=227, b=306,
         acc=[(a_acc_att, a_acc_att_sd, None), (a_acc_one, a_acc_one_up, a_acc_one_lo),
              (a_acc_v1, a_acc_v1_sd, None), (a_acc_bas, a_acc_bas_up, a_acc_bas_lo),
              (a_acc_s2s, a_acc_s2s_up, a_acc_s2s_lo)],
         ent=[(a_ent_att, a_ent_att_sd, None), (a_ent_one, a_ent_one_sd, None),
              (a_ent_v1, a_ent_v1_sd, None), (a_ent_bas, a_ent_bas_up, a_ent_bas_lo),
              (a_ent_s2s, a_ent_s2s_sd, None)],
         acc_lim=(29.1, 76.3), ent_lim=(-0.05, 2.93), ent_ticks=[0, 2],
         cap_x=(8, 388)),
    dict(l=449, r=773, t=66, m=227, b=306,
         acc=[(b_acc_att, b_acc_att_sd, None), (b_acc_one, b_acc_one_sd, None),
              (b_acc_v1, b_acc_v1_sd, None), (b_acc_bas, b_acc_bas_up, b_acc_bas_lo),
              (b_acc_s2s, b_acc_s2s_sd, None)],
         ent=[(b_ent_att, b_ent_att_sd, None), (b_ent_one, b_ent_one_sd, None),
              (b_ent_v1, b_ent_v1_up, b_ent_v1_lo), (b_ent_bas, b_ent_bas_sd, None),
              (b_ent_s2s, b_ent_s2s_sd, None)],
         acc_lim=(29.7, 75.2), ent_lim=(0.29, 2.8), ent_ticks=[1, 2],
         cap_x=(410, 791)),
    dict(l=864, r=1184, t=69, m=228, b=307,
         acc=[(c_acc_att, c_acc_att_sd, None), (c_acc_one, c_acc_one_sd, None),
              (c_acc_v1, c_acc_v1_sd, None), (c_acc_bas, c_acc_bas_sd, None),
              (c_acc_s2s, c_acc_s2s_sd, None)],
         ent=[(c_ent_att, c_ent_att_sd, None), (c_ent_one, c_ent_one_sd, None),
              (c_ent_v1, c_ent_v1_sd, None), (c_ent_bas, c_ent_bas_sd, None),
              (c_ent_s2s, c_ent_s2s_up, c_ent_s2s_lo)],
         acc_lim=(29.6, 76.9), ent_lim=(-0.02, 1.4), ent_ticks=[0.0, 0.5, 1.0],
         cap_x=(832, 1205)),
]

x = np.array(epochs)


def draw(ax, series):
    for (m, up, lo), c, n in zip(series, colors, names):
        m = np.asarray(m, float)
        up = np.asarray(up, float)
        lo = up if lo is None else np.asarray(lo, float)
        assert len(m) == len(x) == len(up) == len(lo), n
        ax.fill_between(x, m - lo, m + up, color=c, alpha=0.4, lw=0)
        ax.plot(x, m, color=c, alpha=0.8, lw=1.3, label=n)


def style(ax):
    ax.set_xlim(0, 300)
    ax.set_xticks([0, 50, 100, 150, 200, 250, 300])
    ax.grid(True, color="#b0b0b0", lw=1.0)
    ax.set_axisbelow(True)
    ax.tick_params(labelsize=9, length=3.5, width=0.8)
    ax.yaxis.set_label_position("right")
    for s in ax.spines.values():
        s.set_linewidth(1.0)


for p in panels:
    l, r, t, m, b = p["l"], p["r"], p["t"], p["m"], p["b"]
    ax1 = fig.add_axes([l / W, 1 - m / H, (r - l) / W, (m - t) / H])
    ax2 = fig.add_axes([l / W, 1 - b / H, (r - l) / W, (b - m) / H])
    draw(ax1, p["acc"])
    draw(ax2, p["ent"])
    for ax in (ax1, ax2):
        style(ax)
    ax1.set_ylim(*p["acc_lim"])
    ax1.set_yticks([30, 40, 50, 60, 70])
    ax1.tick_params(axis="x", labelbottom=False, length=0)
    ax1.set_ylabel("accuracy in %", fontsize=9)
    ax2.set_ylim(*p["ent_lim"])
    ax2.set_yticks(p["ent_ticks"])
    ax2.set_ylabel("entropy", fontsize=9)
    ax2.set_xlabel("epochs", fontsize=9, labelpad=1)
    ax1.legend(ncol=2, loc="lower center", bbox_to_anchor=(0.5, 1.0),
               borderaxespad=0.3, shadow=True, fontsize=9, handlelength=1.6,
               handletextpad=1.0, columnspacing=2.3, labelspacing=0.1,
               borderpad=0.4, framealpha=1, edgecolor="0.8", fancybox=True)

# captions (first line justified like the LaTeX source)
fig.canvas.draw()
renderer = fig.canvas.get_renderer()
cap_kw = dict(fontsize=15, family="Liberation Serif", va="baseline", ha="left")
for p, (line1, line2) in zip(panels, captions):
    x0, x1 = p["cap_x"]
    words = line1.split(" ")
    objs = [fig.text(0, 1 - 387 / H, w, **cap_kw) for w in words]
    widths = [o.get_window_extent(renderer).width for o in objs]
    gap = ((x1 - x0) - sum(widths)) / (len(words) - 1)
    xp = x0
    for o, wd in zip(objs, widths):
        o.set_x(xp / W)
        xp += wd + gap
    fig.text(x0 / W, 1 - 408 / H, line2, **cap_kw)

fig.savefig("out.png", dpi=100)
